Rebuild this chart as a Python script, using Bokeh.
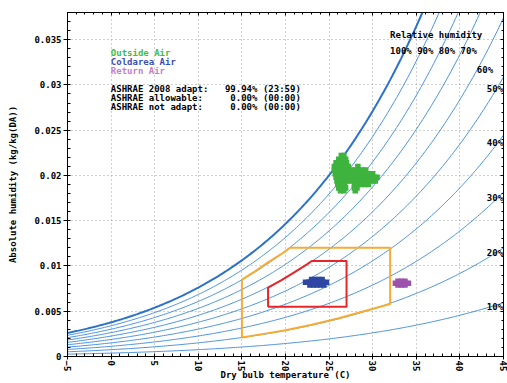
import numpy as np
from bokeh.plotting import figure
from bokeh.models import FixedTicker, LinearAxis, Range1d, Label
from bokeh.embed import file_html
from bokeh.resources import INLINE

# ---------------- data ----------------
X_TICKS = [-5, 0, 5, 10, 15, 20, 25, 30, 35, 40, 45]
X_MINOR = list(range(-5, 46))
Y_TICKS = [0.0, 0.005, 0.01, 0.015, 0.02, 0.025, 0.03, 0.035]
Y_TICK_LABELS = ["0", "0.005", "0.01", "0.015", "0.02", "0.025", "0.03", "0.035"]
Y_MINOR = [i / 1000 for i in range(0, 39)]

RH_LEVELS = [10, 20, 30, 40, 50, 60, 70, 80, 90, 100]
CURVE_T = np.linspace(-5, 45, 201)
PRESSURE = 101325.0

# ASHRAE 2008 adaptive zone (orange)
ADAPT_T = [15.0, 16.5, 18.0, 19.5, 20.5, 32.0, 32.0, 29.0, 26.0, 23.0, 20.0, 17.5, 15.0, 15.0]
ADAPT_W = [0.0085, 0.0094, 0.0104, 0.0113, 0.0120, 0.0120, 0.0058, 0.0050, 0.0042, 0.0035, 0.0029, 0.0025, 0.0021, 0.0085]

# allowable zone (red)
ALLOW_T = [18.0, 18.0, 19.5, 21.0, 22.5, 23.0, 27.0, 27.0, 18.0]
ALLOW_W = [0.0055, 0.0076, 0.0084, 0.0093, 0.0102, 0.01055, 0.01055, 0.0055, 0.0055]

# Outside Air cloud: rows of (absolute humidity, temperatures)
OUTSIDE_ROWS = [
    (0.0222, [26.4, 26.7]),
    (0.0218, [26.1, 26.5, 26.9]),
    (0.0214, [25.8, 26.2, 26.6, 27.0]),
    (0.0210, [25.6, 26.0, 26.4, 26.8, 27.2, 28.3]),
    (0.0206, [25.6, 26.0, 26.4, 26.8, 27.2, 27.6, 28.0, 28.4, 28.8, 29.2]),
    (0.0202, [25.7, 26.1, 26.5, 26.9, 27.3, 27.7, 28.1, 28.5, 28.9, 29.3, 29.7, 30.0]),
    (0.0198, [25.8, 26.2, 26.6, 27.0, 27.4, 27.8, 28.2, 28.6, 29.0, 29.4, 29.8, 30.2, 30.5]),
    (0.0194, [25.9, 26.3, 26.7, 27.1, 27.5, 27.9, 28.3, 28.7, 29.1, 29.5, 29.9, 30.3]),
    (0.0190, [26.0, 26.4, 26.8, 27.9, 28.3, 28.7, 29.1, 29.5]),
    (0.0186, [26.1, 26.5, 26.9, 27.9, 28.2]),
    (0.0183, [26.3, 26.7, 28.0]),
]
COLD_ROWS = [
    (0.0085, [23.0, 23.4, 23.8, 24.2]),
    (0.0082, [22.3, 22.7, 23.1, 23.5, 23.9, 24.3, 24.7]),
    (0.0079, [22.8, 23.2, 23.6, 24.0, 24.4]),
]
RETURN_ROWS = [
    (0.0083, [32.9, 33.3, 33.7]),
    (0.0081, [32.6, 33.0, 33.4, 33.8, 34.1]),
    (0.0079, [32.9, 33.3, 33.7]),
]

LEGEND_NAMES = ["Outside Air", "Coldarea Air", "Return Air"]
STATS_NAMES = ["ASHRAE 2008 adapt:", "ASHRAE allowable:", "ASHRAE not adapt:"]
STATS_PCT = ["99.94%", "0.00%", "0.00%"]
STATS_TIME = ["(23:59)", "(00:00)", "(00:00)"]

# ---------------- helpers ----------------
FONT = "DejaVu Sans Mono"


def abs_hum(t, rh):
    es = 611.2 * np.exp(17.62 * t / (243.12 + t))
    pv = rh / 100.0 * es
    return 0.622 * pv / (PRESSURE - pv)


def flatten(rows):
    xs, ys = [], []
    for w, ts in rows:
        for t in ts:
            xs.append(t)
            ys.append(w)
    return xs, ys


# ---------------- figure ----------------
p = figure(width=507, height=383, x_range=Range1d(-5, 45), y_range=Range1d(0, 0.038),
           output_backend="svg", toolbar_location=None,
           min_border_left=67, min_border_right=4, min_border_top=12, min_border_bottom=25)
p.outline_line_color = "black"
p.background_fill_color = "white"
p.border_fill_color = "white"

xt = FixedTicker(ticks=X_TICKS, minor_ticks=X_MINOR)
yt = FixedTicker(ticks=Y_TICKS, minor_ticks=Y_MINOR)

xa = p.xaxis[0]
xa.ticker = xt
xa.major_label_orientation = "vertical"
ya = p.yaxis[0]
ya.ticker = yt
ya.major_label_overrides = {float(v): s for v, s in zip(Y_TICKS, Y_TICK_LABELS)}
for ax in (xa, ya):
    ax.major_label_text_font = FONT
    ax.major_label_text_font_style = "bold"
    ax.major_label_text_font_size = "9px"
    ax.major_label_text_color = "black"
    ax.major_tick_out = 4
    ax.major_tick_in = 0
    ax.minor_tick_in = 3
    ax.minor_tick_out = 0
    ax.major_label_standoff = 2
    ax.axis_line_color = "black"
    ax.major_tick_line_color = "black"
    ax.minor_tick_line_color = "black"
    ax.axis_label_text_font = FONT
    ax.axis_label_text_font_style = "bold"
    ax.axis_label_text_font_size = "9px"
    ax.axis_label_text_color = "black"

ya.axis_label = "Absolute humidity (kg/kg(DA))"
ya.axis_label_standoff = 13
xa.axis_label = "Dry bulb temperature (C)"
xa.major_tick_out = 3
xa.major_label_standoff = 1
xa.axis_label_standoff = -4

for loc, tk in (("above", xt), ("right", yt)):
    ax = LinearAxis(ticker=tk, major_label_text_font_size="0px", major_label_standoff=0,
                    major_tick_in=3, major_tick_out=0, minor_tick_in=2, minor_tick_out=0,
                    axis_line_color="black")
    ax.major_label_overrides = {float(v): "" for v in tk.ticks}
    p.add_layout(ax, loc)

for g in (p.xgrid[0], p.ygrid[0]):
    g.grid_line_color = "#a0a0a0"
    g.grid_line_dash = "1 3"
    g.grid_line_width = 1
p.xgrid[0].ticker = xt
p.ygrid[0].ticker = yt

# RH curves
for rh in RH_LEVELS:
    w = abs_hum(CURVE_T, rh)
    if rh == 100:
        p.line(CURVE_T, w, line_color="#2b72c8", line_width=2)
    else:
        p.line(CURVE_T, w, line_color="#4d93de", line_width=1)

# zones
p.line(ADAPT_T, ADAPT_W, line_color="#f6ac34", line_width=2)
p.line(ALLOW_T, ALLOW_W, line_color="#e8262a", line_width=2)

# clouds
for rows, col in ((OUTSIDE_ROWS, "#3eb33e"), (COLD_ROWS, "#2f47a3"), (RETURN_ROWS, "#9d52ad")):
    xs, ys = flatten(rows)
    p.scatter(xs, ys, marker="square", size=5.5, fill_color=col, line_color=None)


def lab(x, y, text, color="black", align="left", baseline="alphabetic"):
    p.add_layout(Label(x=x, y=y, text=text, text_font=FONT, text_font_style="bold",
                       text_font_size="9px", text_color=color, text_align=align,
                       text_baseline=baseline))


def px2x(px):
    return -5 + (px - 66.7) / 8.72


def py2y(py):
    return (357.7 - py) / 9100.0


legend_cols = ["#3ec03e", "#3a4fb4", "#c47fcc"]
for i, (name, col) in enumerate(zip(LEGEND_NAMES, legend_cols)):
    lab(px2x(110.0), py2y(52.5 + 9.1 * i), name, col)
for i in range(3):
    yy = py2y(88.5 + 9.3 * i)
    lab(px2x(110.0), yy, STATS_NAMES[i])
    lab(px2x(256.6), yy, STATS_PCT[i], align="right")
    lab(px2x(262.1), yy, STATS_TIME[i])

lab(px2x(389.3), py2y(35.0), "Relative humidity")
lab(px2x(389.3), py2y(50.5), "100% 90% 80% 70%")
lab(px2x(476.0), py2y(69.5), "60%")
for txt, py in (("50%", 88.5), ("40%", 143.5), ("30%", 198.5), ("20%", 254.0), ("10%", 307.5)):
    lab(px2x(502.3), py2y(py), txt, align="right")

open("out.html", "w").write(file_html(p, INLINE))
